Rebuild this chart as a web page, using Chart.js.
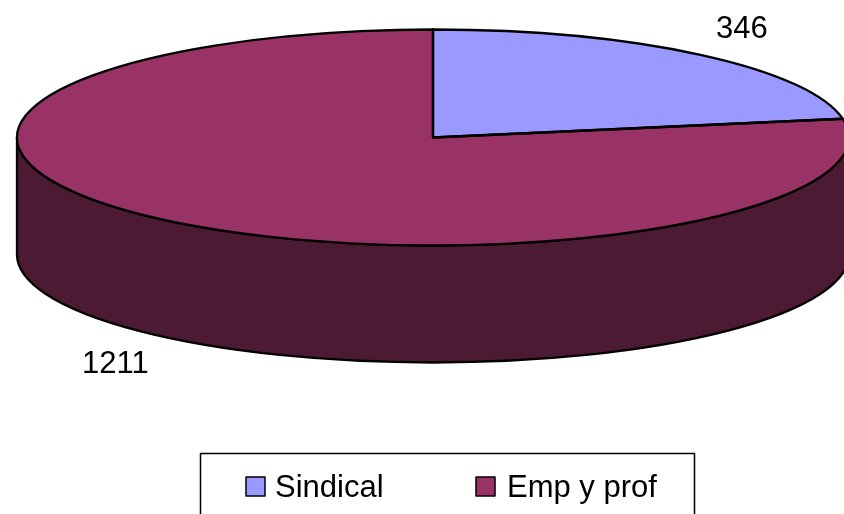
<!DOCTYPE html>
<html>
<head>
<meta charset="utf-8">
<title>Sindical / Emp y prof</title>
<script src="https://cdn.jsdelivr.net/npm/chart.js@4"></script>
<style>
  html, body { margin: 0; padding: 0; background: #fff; overflow: hidden; }
  canvas { display: block; }
</style>
</head>
<body>
<canvas id="grafico_torta" width="844" height="514"></canvas>
<script>
const labels = ['Sindical', 'Emp y prof']
const values = [346, 1211]
const colors = ['#9999ff', '#993366']
const wallColor = '#4d1a33'

// donde cae el disco en la pagina (pie aplanado, 3D falso)
const disc = { x: 433, y: 137.5, rx: 416, ry: 108, depth: 117 }
const labelPos = [[716, 38], [82, 373]]
const legendBox = { left: 200.5, top: 453.5, right: 694.5, bottom: 530 }
const legendMarks = [[246, 275], [476, 507]]
const fontName = '"Liberation Sans", Arial, sans-serif'

function outline(ctx) {
  ctx.strokeStyle = '#000'
  ctx.lineWidth = 2.3
  ctx.lineJoin = 'round'
  ctx.stroke()
}

const pie3d = {
  id: 'pie3d',
  beforeDatasetsDraw(chart) {
    const ctx = chart.ctx
    const arc = chart.getDatasetMeta(0).data[0]
    const s = { x: disc.rx / arc.outerRadius, y: disc.ry / arc.outerRadius }

    // pared lateral
    ctx.beginPath()
    ctx.ellipse(disc.x, disc.y, disc.rx, disc.ry, 0, 0, Math.PI)
    ctx.lineTo(disc.x - disc.rx, disc.y + disc.depth)
    ctx.ellipse(disc.x, disc.y + disc.depth, disc.rx, disc.ry, 0, Math.PI, 0, true)
    ctx.closePath()
    ctx.fillStyle = wallColor
    ctx.fill()
    outline(ctx)

    ctx.save()
    ctx.translate(disc.x, disc.y)
    ctx.scale(s.x, s.y)
    ctx.translate(-arc.x, -arc.y)
  },
  afterDatasetsDraw(chart) {
    const ctx = chart.ctx
    ctx.restore()

    // bordes aparte para que no se deformen con la escala
    chart.getDatasetMeta(0).data.forEach(arc => {
      ctx.beginPath()
      ctx.moveTo(disc.x, disc.y)
      ctx.ellipse(disc.x, disc.y, disc.rx, disc.ry, 0, arc.startAngle, arc.endAngle)
      ctx.closePath()
      outline(ctx)
    })

    ctx.font = '31px ' + fontName
    ctx.fillStyle = '#000'
    ctx.textBaseline = 'alphabetic'
    values.forEach((v, i) => ctx.fillText(String(v), labelPos[i][0], labelPos[i][1]))

    // leyenda
    ctx.strokeStyle = '#000'
    ctx.lineWidth = 1.5
    ctx.strokeRect(legendBox.left, legendBox.top, legendBox.right - legendBox.left, legendBox.bottom - legendBox.top)
    labels.forEach((name, i) => {
      ctx.fillStyle = colors[i]
      ctx.fillRect(legendMarks[i][0], 477, 19, 19)
      ctx.strokeRect(legendMarks[i][0], 477, 19, 19)
      ctx.fillStyle = '#000'
      ctx.fillText(name, legendMarks[i][1], 497)
    })
  }
}

const graph = new Chart(document.getElementById('grafico_torta'), {
  type: 'pie',
  data: {
    labels,
    datasets: [{ data: values, backgroundColor: colors, borderWidth: 0 }]
  },
  options: {
    responsive: false,
    animation: false,
    plugins: {
      legend: { display: false },
      tooltip: { enabled: false }
    }
  },
  plugins: [pie3d]
})
</script>
</body>
</html>
